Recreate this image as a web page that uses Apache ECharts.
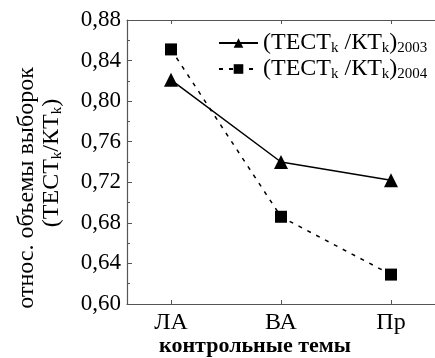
<!DOCTYPE html>
<html>
<head>
<meta charset="utf-8">
<script src="https://cdn.jsdelivr.net/npm/echarts@6/dist/echarts.min.js"></script>
<style>
  html, body { margin: 0; padding: 0; background: #fff; }
  #chart { width: 435px; height: 358px; }
</style>
</head>
<body>
<div id="chart"></div>
<script>
const categories = ['ЛА', 'ВА', 'Пр'];
const values2003 = [0.821, 0.740, 0.722];
const values2004 = [0.851, 0.686, 0.629];
const yTicks = { min: 0.60, max: 0.88, step: 0.04 };

const serif = "'Liberation Serif', 'Times New Roman', serif";
const axisColor = '#555';

const chart = echarts.init(document.getElementById('chart'));

const toPoints = (vals) => vals.map((v, i) => [i, v]);
const catIdx = categories.map((c, i) => i);

const richText = {
  main: { fontFamily: serif, fontSize: 24, color: '#000' },
  sub: { fontFamily: serif, fontSize: 15, color: '#000', padding: [11, 0, 0, 0] },
};

chart.setOption({
  animation: false,
  textStyle: { fontFamily: serif },
  grid: { left: 127, top: 20, width: 315, height: 284 },
  legend: {
    orient: 'vertical',
    left: 213,
    top: 26,
    itemWidth: 39,
    itemHeight: 12,
    itemGap: 1,
    textStyle: { fontFamily: serif, rich: richText },
    formatter: (name) => '{main|(ТЕСТ}{sub|k}{main| /КТ}{sub|k}{main|)}{sub|' + name + '}',
    data: ['2003', '2004'],
  },
  xAxis: [
    {
      type: 'value',
      min: -0.4,
      max: 2.4,
      position: 'bottom',
      splitLine: { show: false },
      axisLine: { show: true, onZero: false, lineStyle: { color: axisColor, width: 1.2 } },
      axisTick: { show: true, inside: true, length: 4, customValues: catIdx, lineStyle: { color: axisColor } },
      axisLabel: {
        customValues: catIdx,
        formatter: (v) => categories[Math.round(v)],
        fontFamily: serif,
        fontSize: 24,
        color: '#000',
        margin: 7,
      },
    },
    {
      type: 'value',
      min: -0.4,
      max: 2.4,
      position: 'top',
      splitLine: { show: false },
      axisLine: { show: true, onZero: false, lineStyle: { color: axisColor, width: 1.2 } },
      axisTick: { show: true, inside: true, length: 4, customValues: catIdx, lineStyle: { color: axisColor } },
      axisLabel: { show: false },
    },
  ],
  yAxis: {
    type: 'value',
    min: yTicks.min,
    max: yTicks.max,
    interval: yTicks.step,
    splitLine: { show: false },
    axisLine: { show: true, onZero: false, lineStyle: { color: axisColor, width: 1.2 } },
    axisTick: { show: true, inside: true, length: 5, lineStyle: { color: axisColor } },
    minorTick: { show: true, splitNumber: 2, length: 3, lineStyle: { color: axisColor } },
    axisLabel: {
      formatter: (v) => v.toFixed(2).replace('.', ','),
      fontFamily: serif,
      fontSize: 23,
      color: '#000',
      margin: 6,
    },
  },
  graphic: [
    {
      type: 'text',
      x: 27,
      y: 188,
      rotation: Math.PI / 2,
      style: {
        text: 'относ. объемы выборок',
        font: '24px ' + serif,
        fill: '#000',
        align: 'center',
        verticalAlign: 'middle',
      },
    },
    {
      type: 'text',
      x: 52,
      y: 163,
      rotation: Math.PI / 2,
      style: {
        text: '{main|(ТЕСТ}{sub|k}{main|/КТ}{sub|k}{main|)}',
        rich: richText,
        align: 'center',
        verticalAlign: 'middle',
      },
    },
    {
      type: 'text',
      x: 255,
      y: 346,
      style: {
        text: 'контрольные темы',
        font: 'bold 22px ' + serif,
        fill: '#000',
        align: 'center',
        verticalAlign: 'middle',
      },
    },
  ],
  series: [
    {
      name: '2003',
      type: 'line',
      data: toPoints(values2003),
      symbol: 'triangle',
      symbolSize: 14,
      itemStyle: { color: '#000' },
      lineStyle: { color: '#000', width: 1.5 },
    },
    {
      name: '2004',
      type: 'line',
      data: toPoints(values2004),
      symbol: 'rect',
      symbolSize: 12,
      itemStyle: { color: '#000' },
      lineStyle: { color: '#000', width: 1.5, type: [4, 6] },
    },
  ],
});
</script>
</body>
</html>
